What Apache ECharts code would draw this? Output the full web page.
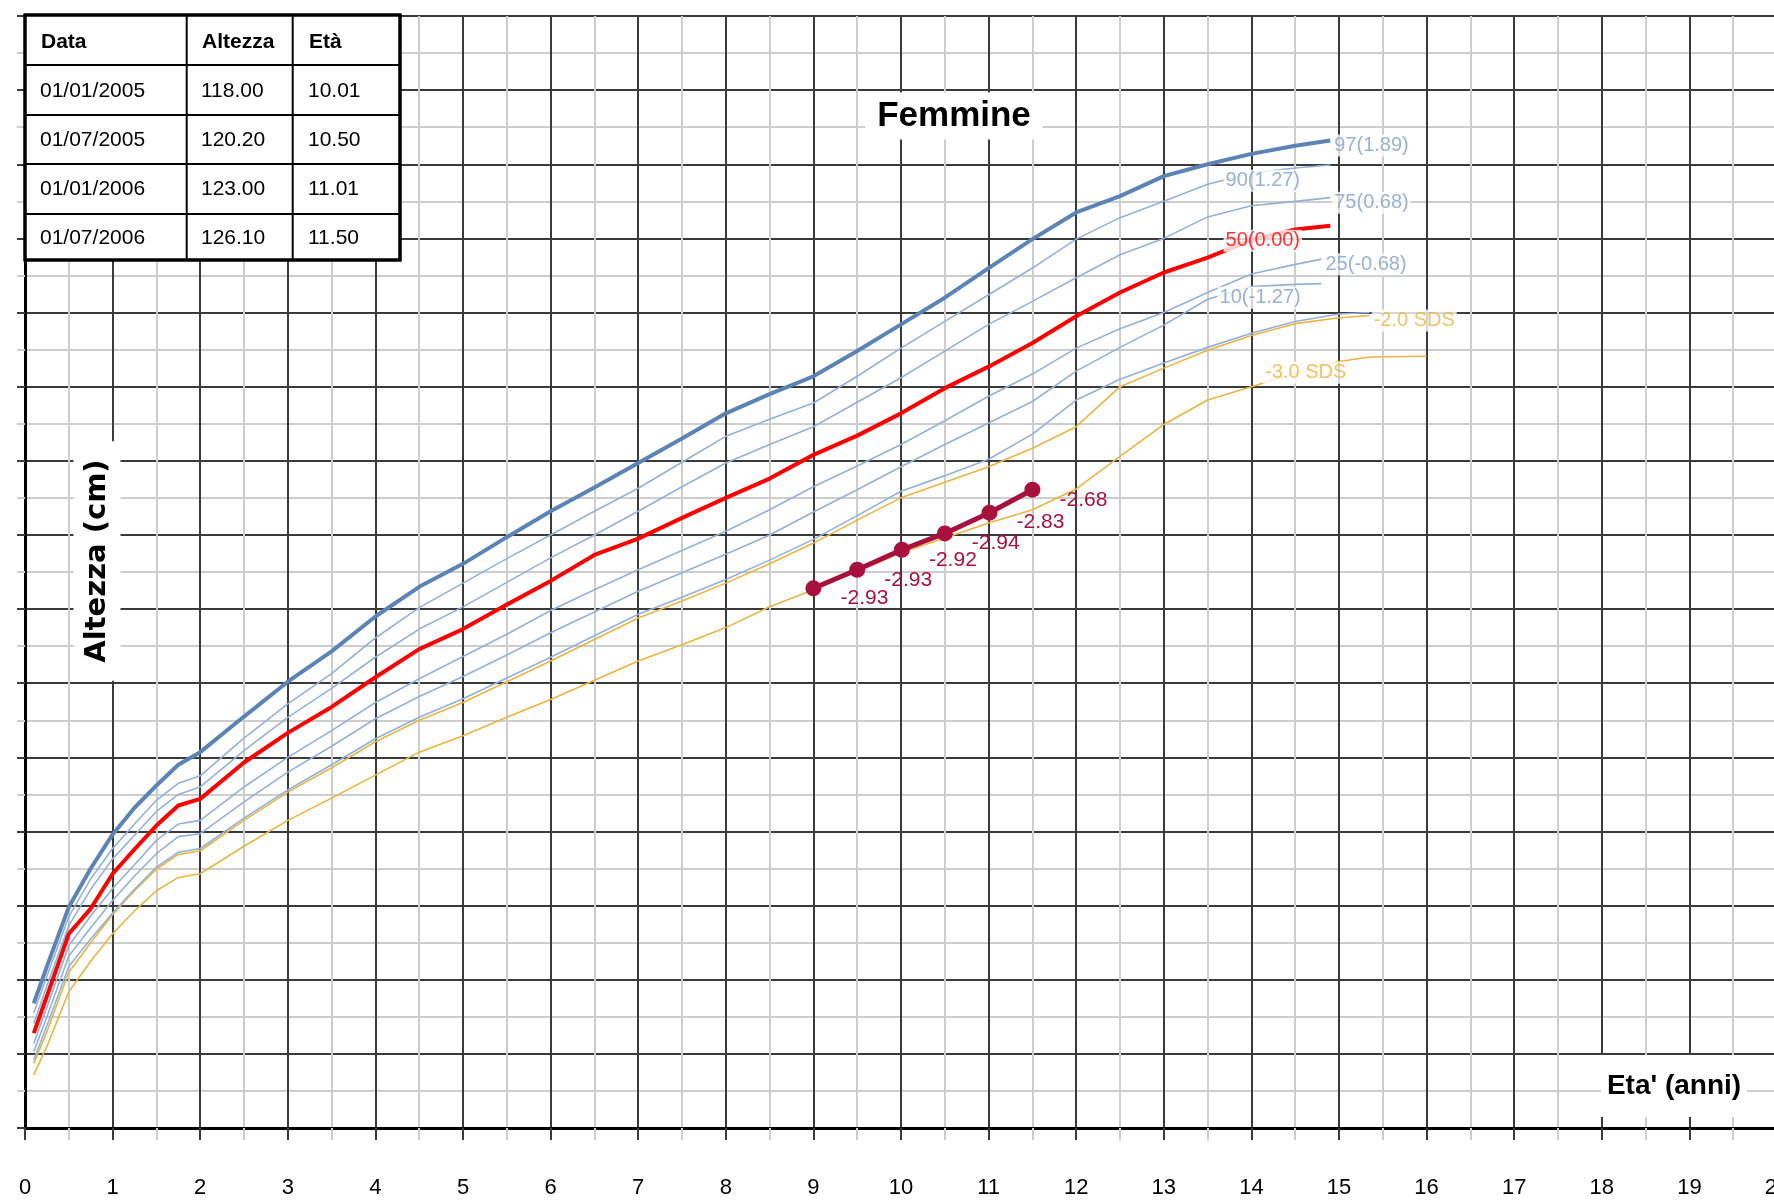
<!DOCTYPE html>
<html><head><meta charset="utf-8">
<script src="https://cdn.jsdelivr.net/npm/echarts@6/dist/echarts.min.js"></script>
<style>html,body{margin:0;padding:0;background:#fff}#c{width:1774px;height:1204px}</style>
</head><body><div id="c"></div>
<script>
// ---------- DATA ----------
const ages = [0.1,0.25,0.5,0.75,1,1.25,1.5,1.75,2,2.5,3,3.5,4,4.5,5,5.5,6,6.5,7,7.5,8,8.5,9,9.5,10,10.5,11,11.5,12,12.5,13,13.5,14,14.5,14.9];
const p97 = [56.8,61.8,69.8,75.0,79.6,83.2,86.2,89.0,90.7,95.5,100.2,104.3,109.0,113.0,116.1,119.7,123.2,126.4,129.7,133.0,136.4,139.0,141.4,144.8,148.4,152.0,156.0,159.9,163.5,165.7,168.4,170.0,171.4,172.5,173.2];
const p90 = [55.5,60.5,68.5,73.6,77.7,81.0,84.2,86.5,87.5,92.6,97.2,101.3,106.1,110.2,113.5,116.8,120.0,123.2,126.3,129.8,133.3,135.6,137.8,141.4,145.2,148.8,152.4,156.0,159.9,162.8,165.0,167.3,168.8,169.5,169.9];
const p75 = [54.1,59.2,67.3,72.2,76.3,79.5,82.7,85.0,86.0,90.9,95.4,99.3,103.5,107.3,110.3,113.6,116.9,120.0,123.2,126.5,129.7,132.2,134.6,137.9,141.2,144.8,148.4,151.5,154.7,157.8,160.0,162.9,164.4,165.0,165.5];
const p50 = [52.8,57.8,66.2,69.6,74.3,77.6,80.8,83.5,84.4,89.3,93.3,96.8,100.8,104.6,107.3,110.6,113.8,117.3,119.5,122.3,125.0,127.6,130.8,133.4,136.4,139.8,142.7,145.9,149.5,152.7,155.4,157.4,159.8,161.2,161.7];
const ages25 = [0.1,0.25,0.5,0.75,1,1.25,1.5,1.75,2,2.5,3,3.5,4,4.5,5,5.5,6,6.5,7,7.5,8,8.5,9,9.5,10,10.5,11,11.5,12,12.5,13,13.5,14,14.5,14.8];
const p25 = [51.4,56.3,64.6,68.6,72.3,75.5,78.8,81.0,81.5,86.0,90.0,93.6,97.4,100.6,103.6,106.6,109.8,112.6,115.3,117.9,120.5,123.4,126.5,129.3,132.2,135.4,138.7,141.7,145.2,147.8,150.0,152.7,155.2,156.5,157.2];
const p10 = [50.3,55.0,63.2,67.0,70.7,74.0,77.0,79.3,79.7,84.0,88.0,91.5,95.2,98.2,100.9,103.8,106.8,109.6,112.4,114.9,117.4,120.0,123.1,126.1,129.2,132.2,135.1,138.0,142.1,145.3,148.3,151.8,153.5,153.8,153.9];
const agesLow = [0.1,0.25,0.5,0.75,1,1.25,1.5,1.75,2,2.5,3,3.5,4,4.5,5,5.5,6,6.5,7,7.5,8,8.5,9,9.5,10,10.5,11,11.5,12,12.5,13,13.5,14,14.5,15,15.35];
const p3 = [49.2,53.8,61.8,65.5,69.0,72.2,75.2,77.2,77.7,81.8,85.6,89.0,92.5,95.4,97.9,100.7,103.5,106.4,109.3,111.6,114.0,116.6,119.4,122.6,125.9,128.0,130.2,133.6,138.2,141.0,143.2,145.3,147.2,148.8,149.8,150.0];
const sdsMinus2 = [48.7,53.0,61.0,65.0,68.8,72.0,74.9,76.9,77.4,81.5,85.3,88.6,92.1,95.0,97.4,100.2,103.0,105.9,108.8,111.1,113.5,116.1,118.9,122.0,125.0,127.1,129.2,131.7,134.6,140.0,142.5,144.9,146.9,148.5,149.3,149.6];
const agesMinus3 = [0.1,0.25,0.5,0.75,1,1.25,1.5,1.75,2,2.5,3,3.5,4,4.5,5,5.5,6,6.5,7,7.5,8,8.5,9,9.5,10,10.5,11,11.5,12,12.5,13,13.5,14,14.5,15,15.35,16];
const sdsMinus3 = [47.2,51.0,58.4,62.5,66.2,69.3,72.0,73.8,74.3,78.0,81.5,84.5,87.6,90.7,92.9,95.4,97.8,100.4,103.0,105.2,107.5,110.3,112.6,115.1,117.6,119.6,121.6,123.4,126.2,130.6,134.9,138.2,140.0,141.8,143.4,144.0,144.1];

// patient measurements
const patientAges = [9.0,9.5,10.01,10.5,11.01,11.5];
const patientHeights = [112.8,115.3,118.0,120.2,123.0,126.1];
const patientSds = ['-2.93','-2.93','-2.92','-2.94','-2.83','-2.68'];

// curve labels (text and anchor on curve)
const curveLabelTexts = ['97(1.89)','90(1.27)','75(0.68)','50(0.00)','25(-0.68)','10(-1.27)','-2.0 SDS','-3.0 SDS'];
const curveLabelAges = [14.9,14.13,14.9,14.13,14.8,14.1,15.35,14.62];
const curveLabelValues = [173.2,168.6,165.5,160.5,157.2,152.8,149.6,142.7];

// table
const tableHeader = ['Data','Altezza','Età'];
const tableDates = ['01/01/2005','01/07/2005','01/01/2006','01/07/2006'];
const tableHeights = [118.00,120.20,123.00,126.10];
const tableAges = [10.01,10.50,11.01,11.50];

const xTicks = {min:0, max:20, interval:1};
const yTicks = {min:40, max:190, interval:10};

// ---------- STYLE ----------
const THICK_BLUE = '#5b84b4', THIN_BLUE = '#93b1d6', LABEL_BLUE = '#7d9dc9';
const RED = '#ff0000', ORANGE = '#e9b443', PATIENT = '#a8103e';
const DARK = '#3a3a3a', LIGHT = '#cdcdcd';
const FONT = '"Liberation Sans", Arial, sans-serif';

function curve(name, xs, ys, color, width, z) {
  return {type:'line', name, data: xs.map((a,i)=>[a, ys[i]]), showSymbol:false, symbol:'none',
    lineStyle:{color, width}, z, silent:true, animation:false};
}
const labelColors = [LABEL_BLUE,LABEL_BLUE,LABEL_BLUE,RED,LABEL_BLUE,LABEL_BLUE,ORANGE,ORANGE];
const labelPos = ['right','inside','right','inside','right','inside','right','inside'];

const labelSeries = {
  type:'scatter', symbolSize:0, z:20, silent:true, animation:false,
  data: curveLabelTexts.map((t,i)=>({
    value:[curveLabelAges[i], curveLabelValues[i]],
    label:{show:true, formatter:t, position:labelPos[i], distance:2,
      offset: labelPos[i]==='right' ? [0,5] : [0,6],
      color:labelColors[i], fontSize:20, fontFamily:FONT,
      backgroundColor:'#fff', padding:[1,2]}
  }))
};

const patientSeries = {
  type:'line', name:'paziente', z:15, animation:false,
  data: patientAges.map((a,i)=>[a, patientHeights[i]]),
  symbol:'circle', symbolSize:16, showSymbol:true,
  lineStyle:{color:PATIENT, width:5}, itemStyle:{color:PATIENT},
  label:{show:true, position:'inside', offset:[51,10], color:PATIENT, fontSize:21, fontFamily:FONT,
    formatter: p => patientSds[p.dataIndex]}
};

// table graphic
const tX = 25, tY = 15, tW = 375, tH = 245;
const colX = [186.7, 292.7];
const rowY = [65, 115, 164, 214];
const cellX = [40, 201, 308];
const cellY = [42, 91, 140, 189, 238];
const TZ = 100;
const tableEls = [{type:'rect', z:TZ, shape:{x:tX, y:tY, width:tW, height:tH}, style:{fill:'#fff', stroke:'#000', lineWidth:3}}];
colX.forEach(x=>tableEls.push({type:'line', z:TZ+1, shape:{x1:x,y1:tY,x2:x,y2:tY+tH}, style:{stroke:'#000', lineWidth:2}}));
rowY.forEach(y=>tableEls.push({type:'line', z:TZ+1, shape:{x1:tX,y1:y,x2:tX+tW,y2:y}, style:{stroke:'#000', lineWidth:2}}));
tableHeader.forEach((h,j)=>tableEls.push({type:'text', z:TZ+2, x:cellX[j]+1, y:cellY[0], style:{text:h, font:'bold 21px '+FONT, fill:'#000', verticalAlign:'middle'}}));
tableDates.forEach((d,i)=>{
  const row = [d, tableHeights[i].toFixed(2), tableAges[i].toFixed(2)];
  row.forEach((v,j)=>tableEls.push({type:'text', z:TZ+2, x:cellX[j], y:cellY[i+1], style:{text:v, font:'21px '+FONT, fill:'#000', verticalAlign:'middle'}}));
});
tableEls.push({type:'rect', z:TZ+1, shape:{x:tX, y:tY, width:tW, height:tH}, style:{fill:'none', stroke:'#000', lineWidth:3}});

const option = {
  animation:false,
  backgroundColor:'#fff',
  grid:{left:25, top:16, width:1752, height:1112, containLabel:false, outerBoundsMode:'none'},
  xAxis:{type:'value', min:xTicks.min, max:xTicks.max, interval:xTicks.interval,
    axisLine:{show:true, onZero:false, lineStyle:{color:'#000', width:3}},
    axisTick:{show:true, length:12, lineStyle:{color:DARK, width:2}},
    minorTick:{show:true, splitNumber:2, length:12, lineStyle:{color:LIGHT, width:2}},
    splitLine:{show:true, lineStyle:{color:DARK, width:2}},
    minorSplitLine:{show:true, lineStyle:{color:LIGHT, width:2}},
    axisLabel:{show:true, margin:49, color:'#000', fontSize:22, fontFamily:FONT}},
  yAxis:{type:'value', min:yTicks.min, max:yTicks.max, interval:yTicks.interval,
    axisLine:{show:true, onZero:false, lineStyle:{color:'#000', width:3}},
    axisTick:{show:true, length:8, lineStyle:{color:DARK, width:2}},
    minorTick:{show:true, splitNumber:2, length:8, lineStyle:{color:LIGHT, width:2}},
    splitLine:{show:true, lineStyle:{color:DARK, width:2}},
    minorSplitLine:{show:true, lineStyle:{color:LIGHT, width:2}},
    axisLabel:{show:false}},
  series:[
    curve('-3 SDS', agesMinus3, sdsMinus3, ORANGE, 1.6, 3),
    curve('-2 SDS', agesLow, sdsMinus2, ORANGE, 1.6, 3),
    curve('3', agesLow, p3, THIN_BLUE, 1.6, 3),
    curve('10', ages25, p10, THIN_BLUE, 1.6, 3),
    curve('25', ages25, p25, THIN_BLUE, 1.6, 3),
    curve('75', ages, p75, THIN_BLUE, 1.6, 3),
    curve('90', ages, p90, THIN_BLUE, 1.6, 3),
    curve('50', ages, p50, RED, 4, 4),
    curve('97', ages, p97, THICK_BLUE, 4, 4),
    patientSeries,
    labelSeries
  ],
  graphic:[
    {type:'group', children:tableEls},
    {type:'text', z:100, x:954, y:116, style:{text:'Femmine', font:'bold 35px '+FONT, fill:'#000', align:'center', verticalAlign:'middle', backgroundColor:'#fff', padding:[6,12]}},
    {type:'text', z:100, x:97, y:561, rotation:Math.PI/2, style:{text:'Altezza (cm)', font:'bold 29px "DejaVu Sans", sans-serif', fill:'#000', align:'center', verticalAlign:'middle', backgroundColor:'#fff', padding:[9,18]}},
    {type:'text', z:100, x:1674, y:1086, style:{text:"Eta' (anni)", font:'bold 28px '+FONT, fill:'#000', align:'center', verticalAlign:'middle', backgroundColor:'#fff', padding:[17,6]}}
  ]
};
const chart = echarts.init(document.getElementById('c'), null, {renderer:'canvas'});
chart.setOption(option);
</script></body></html>
